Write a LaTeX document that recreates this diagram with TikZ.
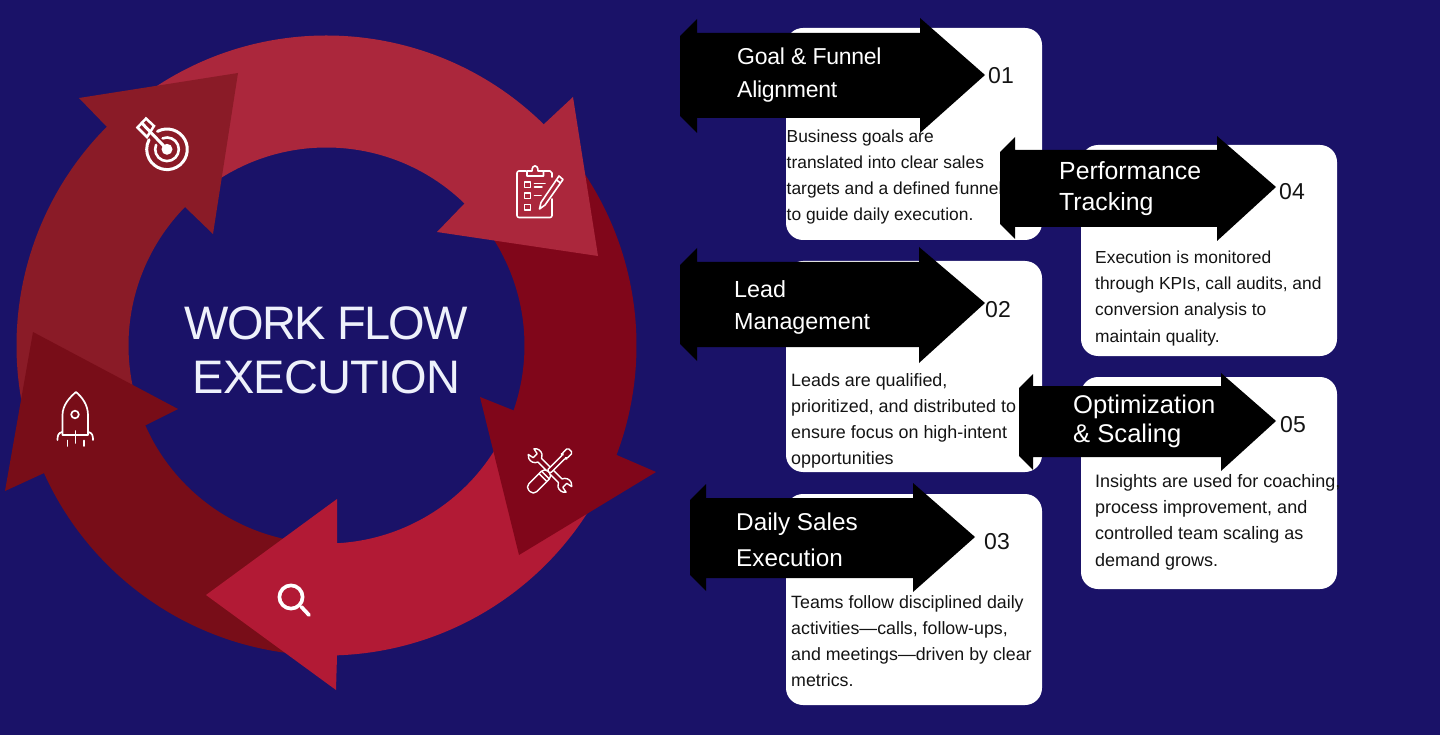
\documentclass[tikz,border=0pt]{standalone}
\usepackage{fontspec}
\setmainfont{Liberation Sans}
\definecolor{bgnavy}{HTML}{1A1268}
\definecolor{segA}{HTML}{AB273C}
\definecolor{segB}{HTML}{80061A}
\definecolor{segC}{HTML}{B21A35}
\definecolor{segD}{HTML}{780D18}
\definecolor{segE}{HTML}{8A1B27}
\definecolor{titlecol}{HTML}{EEF1FB}
\definecolor{inkcol}{HTML}{141414}
\newcommand{\ringbody}[3]{\fill[#1] (#2:310) arc[start angle=#2,end angle=#3,radius=310] -- (#3:198) arc[start angle=#3,end angle=#2,radius=198] -- cycle;}
\tikzset{
  card/.style={fill=white,rounded corners=17pt},
  blackarrow/.style={fill=black},
  heading/.style={text=white,align=left,anchor=base west,inner sep=0pt},
  num/.style={font=\fontsize{23}{23}\selectfont,text=inkcol,anchor=base west,inner sep=0pt},
  bodytext/.style={text=inkcol,align=left,anchor=base west,inner sep=0pt},
  titletext/.style={font=\fontsize{47}{54}\selectfont,text=titlecol,align=center,anchor=base,inner sep=0pt},
  iconline/.style={draw=white,line width=1.7pt,line cap=round,line join=round},
}
\begin{document}
\begin{tikzpicture}[x=1pt,y=-1pt]
\fill[bgnavy] (0,0) rectangle (1440,735);
\useasboundingbox (0,0) rectangle (1440,735);

% ring bodies
\begin{scope}[shift={(326.5,345.5)},x=1pt,y=1pt]
\ringbody{segA}{125}{41}
\ringbody{segB}{34}{-24}
\ringbody{segC}{-28}{-92}
\ringbody{segD}{-95}{-161}
\ringbody{segE}{192}{131}
\end{scope}
% arrow heads
\fill[segA] (543,125) -- (573,97) -- (598,256) -- (437,232) -- (464,204) -- cycle;
\fill[segB] (515,411) -- (480,397) -- (519,555) -- (656,472) -- (619,456) -- cycle;
\fill[segC] (337,544) -- (337,499) -- (206,595) -- (336,690) -- (337,656) -- cycle;
\fill[segD] (144,426) -- (178,409) -- (33,332) -- (5,491) -- (42,474) -- cycle;
\fill[segE] (107,127) -- (79,98) -- (238,73) -- (213,234) -- (185,207) -- cycle;

% target icon
\begin{scope}[shift={(167,149.3)},x=1pt,y=1pt]
\draw[iconline,line width=3pt] (118:20.3) arc[start angle=118,end angle=-208,radius=20.3];
\draw[iconline,line width=2.6pt] (112:11.8) arc[start angle=112,end angle=-202,radius=11.8];
\fill[white] (0,0) circle (5.5);
\end{scope}
\draw[iconline,line width=3pt] (167,149.3) -- (141.75,123);
\draw[iconline,line width=2.5pt,line join=miter] (146,118.5) -- (154,126) -- (147,137) -- (137.5,127.5) -- cycle;

% clipboard icon
\begin{scope}[iconline,line width=1.6pt]
\draw (526,171) -- (519,171) arc[start angle=-90,end angle=-180,radius=2] -- (517,215.5) arc[start angle=180,end angle=90,radius=2] -- (550,217.5) arc[start angle=90,end angle=0,radius=2] -- (552,199);
\draw (544,171) -- (550,171) -- (552,173) -- (552,177);
\draw (527,176) -- (527,171) -- (532,171) .. controls (532,164) and (538,164) .. (538,171) -- (543.5,171) -- (543.5,176) -- cycle;
\draw (524.5,182) rectangle (530.5,187.5);
\draw (524.5,193) rectangle (530.5,198.5);
\draw (524.5,204.5) rectangle (530.5,210);
\draw (534.5,183.5) -- (545,183.5);
\draw (534.5,187) -- (542,187);
\draw (534.5,195.5) -- (541,195.5);
\draw (559,176) -- (563,179.5) -- (545,205) -- (539.5,209) -- (541,202.5) -- cycle;
\draw (556.5,180) -- (560.5,183);
\end{scope}

% tools icon
\begin{scope}[shift={(550,470.5)},x=1pt,y=1pt,line width=1.4pt,line join=round]
\begin{scope}[rotate=-45]
\draw[white,fill=segB] (14.5,2.6) arc[start angle=158,end angle=35,radius=7] -- (21,2.8) -- (21,-2.8) -- (26.73,-4) arc[start angle=-35,end angle=-158,radius=7] -- (-14.5,-2.6) arc[start angle=-22,end angle=-145,radius=7] -- (-21,-2.8) -- (-21,2.8) -- (-26.73,4) arc[start angle=145,end angle=22,radius=7] -- cycle;
\end{scope}
\begin{scope}[rotate=45]
\draw[white,fill=segB,rounded corners=1.5pt] (-2,2.2) -- (20,2.2) -- (20,3.4) -- (28.5,3.4) -- (28.5,-3.4) -- (20,-3.4) -- (20,-2.2) -- (-2,-2.2) -- cycle;
\draw[white,fill=segB,rounded corners=4.5pt] (-29,-5.5) rectangle (-2,5.5);
\draw[white] (-10,-5.5) -- (-10,5.5) (-6.5,-5.5) -- (-6.5,5.5);
\end{scope}
\end{scope}

% search icon
\draw[iconline,line width=3.7pt] (291,597) circle (11.6);
\draw[iconline,line width=3.7pt] (301.5,607) -- (309,615);

% rocket icon
\begin{scope}[iconline,line width=1.7pt]
\draw (62.5,435) -- (62.5,415) .. controls (62.5,405) and (70,397) .. (76,392) .. controls (82,397) and (88,405) .. (88,415) -- (88,435) -- cycle;
\draw (75,414.5) circle (3.8);
\draw (62,432) .. controls (58,433) and (57.5,436) .. (57.5,440);
\draw (88.5,432) .. controls (92.5,433) and (93,436) .. (93,440);
\draw (75.5,431) -- (75.5,443);
\draw (67.5,440.5) -- (67.5,446);
\draw (84,440.5) -- (84,446);
\end{scope}

% title
\node[titletext] (title) at (326.5,393) {{\addfontfeature{LetterSpace=-3.6}WORK FLOW}\\[0pt]{\addfontfeature{LetterSpace=-1.6}EXECUTION}};

% cards
\fill[card] (786,28) rectangle (1042,240);
\fill[card] (786,261) rectangle (1042,472);
\fill[card] (786,494) rectangle (1042,705);
\fill[card] (1081,145) rectangle (1337,356);
\fill[card] (1081,377) rectangle (1337,589);

% card texts
\node[bodytext,font=\fontsize{17.4}{26}\selectfont] (t1) at (786.5,221) {Business goals are\\translated into clear sales\\targets and a defined funnel\\to guide daily execution.};
\node[bodytext,font=\fontsize{17.9}{26}\selectfont] (t2) at (791,464) {Leads are qualified,\\prioritized, and distributed to\\ensure focus on high-intent\\opportunities};
\node[bodytext,font=\fontsize{17.8}{26}\selectfont] (t3) at (791,686) {Teams follow disciplined daily\\activities—calls, follow-ups,\\and meetings—driven by clear\\metrics.};
\node[bodytext,font=\fontsize{17.4}{26.3}\selectfont] (t4) at (1095,342) {Execution is monitored\\through KPIs, call audits, and\\conversion analysis to\\maintain quality.};
\node[bodytext,font=\fontsize{18}{26.3}\selectfont] (t5) at (1095,566) {Insights are used for coaching,\\process improvement, and\\controlled team scaling as\\demand grows.};

% black arrows
\fill[blackarrow] (697,19) -- (697,33) -- (920,33) -- (920,18) -- (985,75) -- (920,133) -- (920,118) -- (697,118) -- (697,133) -- (680,116) -- (680,36) -- cycle;
\fill[blackarrow] (697,248) -- (697,262) -- (919,262) -- (919,247) -- (985,303) -- (919,363) -- (919,347) -- (697,347) -- (697,361) -- (680,344) -- (680,265) -- cycle;
\fill[blackarrow] (706,484) -- (706,498) -- (913,498) -- (913,483) -- (975,537) -- (913,592) -- (913,578) -- (706,578) -- (706,591) -- (690,575) -- (690,500) -- cycle;
\fill[blackarrow] (1015,137) -- (1015,150) -- (1217,150) -- (1217,136) -- (1276,187) -- (1217,241) -- (1217,227) -- (1015,227) -- (1015,239) -- (1000,224) -- (1000,152) -- cycle;
\fill[blackarrow] (1033,374) -- (1033,386) -- (1221,386) -- (1221,373) -- (1276,421) -- (1221,471) -- (1221,457) -- (1033,457) -- (1033,470) -- (1019,456) -- (1019,388) -- cycle;

% headings
\node[heading,font=\fontsize{23}{33}\selectfont\addfontfeature{LetterSpace=-1.2}] (h1) at (737,98) {Goal \& Funnel\\Alignment};
\node[heading,font=\fontsize{23.3}{32}\selectfont] (h2) at (734,329) {Lead\\Management};
\node[heading,font=\fontsize{24.3}{36}\selectfont] (h3) at (736,566) {Daily Sales\\Execution};
\node[heading,font=\fontsize{24.8}{31}\selectfont] (h4) at (1059,211) {Performance\\Tracking};
\node[heading,font=\fontsize{25.6}{29}\selectfont] (h5) at (1073,442) {Optimization\\\& Scaling};

% numbers
\node[num] (n1) at (988,84) {01};
\node[num] (n2) at (985,317) {02};
\node[num] (n3) at (984,549) {03};
\node[num] (n4) at (1279,200) {04};
\node[num] (n5) at (1280,432) {05};
\end{tikzpicture}
\end{document}
